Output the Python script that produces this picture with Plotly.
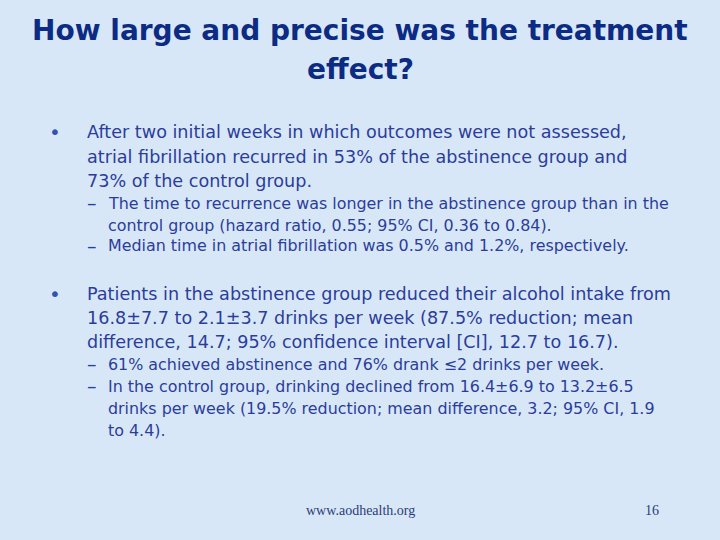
import plotly.graph_objects as go

title_lines = ["How large and precise was the treatment", "effect?"]
title_y = [30, 69]

bullet1_lines = [
    "After two initial weeks in which outcomes were not assessed,",
    "atrial fibrillation recurred in 53% of the abstinence group and",
    "73% of the control group.",
]
bullet1_y = [132, 157, 181]

sub1_lines = [
    ("–", "The time to recurrence was longer in the abstinence group than in the"),
    ("", "control group (hazard ratio, 0.55; 95% CI, 0.36 to 0.84)."),
    ("–", "Median time in atrial fibrillation was 0.5% and 1.2%, respectively."),
]
sub1_y = [203, 225, 246]

bullet2_lines = [
    "Patients in the abstinence group reduced their alcohol intake from",
    "16.8±7.7 to 2.1±3.7 drinks per week (87.5% reduction; mean",
    "difference, 14.7; 95% confidence interval [CI], 12.7 to 16.7).",
]
bullet2_y = [294, 318, 342]

sub2_lines = [
    ("–", "61% achieved abstinence and 76% drank ≤2 drinks per week."),
    ("–", "In the control group, drinking declined from 16.4±6.9 to 13.2±6.5"),
    ("", "drinks per week (19.5% reduction; mean difference, 3.2; 95% CI, 1.9"),
    ("", "to 4.4)."),
]
sub2_y = [364, 386, 408, 430]

footer_text = "www.aodhealth.org"
page_number = "16"

W, H = 720, 540
BG = "#d8e7f7"
TITLE_COLOR = "#0b2b84"
BODY_COLOR = "#2b3d9c"
BODY_FONT = "DejaVu Sans, sans-serif"

fig = go.Figure()
ann = []

def add(x, y, text, size, color=BODY_COLOR, family=BODY_FONT, xanchor="left"):
    ann.append(dict(x=x / W, y=1 - y / H, xref="paper", yref="paper", text=text,
                    showarrow=False, xanchor=xanchor, yanchor="middle",
                    font=dict(size=size, color=color, family=family)))

for t, y in zip(title_lines, title_y):
    add(360, y, "<b>" + t + "</b>", 28, TITLE_COLOR, xanchor="center")

add(55, bullet1_y[0], "•", 20, "#3552b0", xanchor="center")
for t, y in zip(bullet1_lines, bullet1_y):
    add(85, y, t, 17.6)
for (d, t), y in zip(sub1_lines, sub1_y):
    if d:
        add(91.5, y, d, 19, xanchor="center")
    add(106, y, t, 15.9)

add(55, bullet2_y[0], "•", 20, "#3552b0", xanchor="center")
for t, y in zip(bullet2_lines, bullet2_y):
    add(85, y, t, 17.6)
for (d, t), y in zip(sub2_lines, sub2_y):
    if d:
        add(91.5, y, d, 19, xanchor="center")
    add(106, y, t, 15.9)

add(360, 510, footer_text, 14, "#2a3c7a", "Liberation Serif, serif", xanchor="center")
add(652, 510, page_number, 14, "#2a3c7a", "Liberation Serif, serif", xanchor="center")

fig.update_layout(
    width=W, height=H, margin=dict(l=0, r=0, t=0, b=0),
    paper_bgcolor=BG, plot_bgcolor=BG,
    xaxis=dict(visible=False), yaxis=dict(visible=False),
    annotations=ann, showlegend=False,
)
fig.write_html(
    "out.html",
    config={"displayModeBar": False},
    post_script="document.body.style.margin='0';document.body.style.background='" + BG + "';",
)
